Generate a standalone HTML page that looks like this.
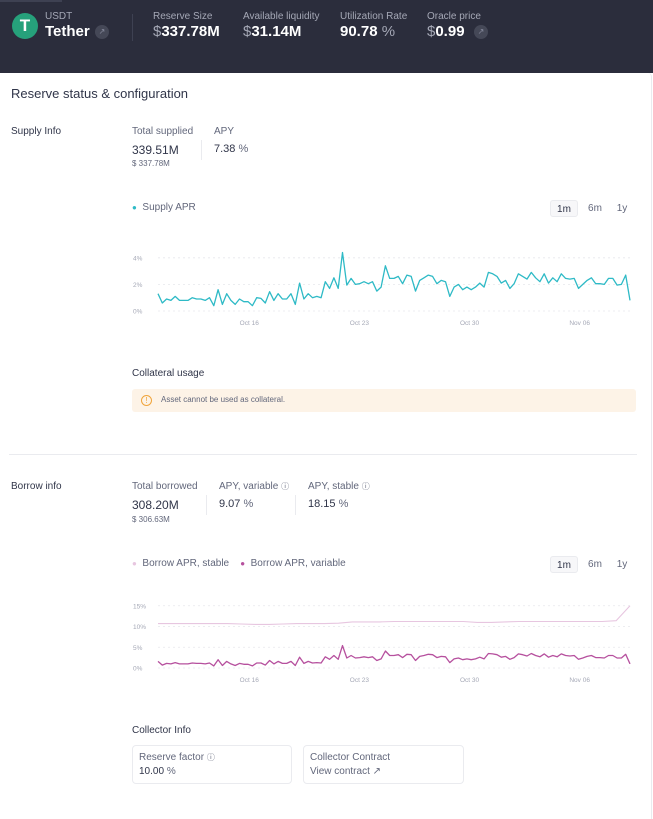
<!DOCTYPE html>
<html><head><meta charset="utf-8">
<style>
*{margin:0;padding:0;box-sizing:border-box}
body{width:653px;height:819px;overflow:hidden;background:#fff;font-family:"Liberation Sans",sans-serif;position:relative;color:#303549}
.a{position:absolute;white-space:nowrap}
.hdr{position:absolute;left:0;top:0;width:653px;height:73px;background:#2b2d3c}
.lbl{font-size:10px;color:#a5a8b6}
.val{font-size:15px;font-weight:bold;color:#fff}
.cur{font-weight:normal;color:#a5a8b6}
.g{font-size:10px;color:#62677b}
.t{font-size:11px;color:#303549}
.tab{font-size:10px;color:#62677b;position:absolute;width:28px;height:17px;line-height:17px;text-align:center}
</style></head><body>
<div class="hdr">
 <div class="a" style="left:0;top:0;width:62px;height:2px;background:#3e4152"></div>
 <div class="a" style="left:12px;top:13px;width:26px;height:26px;border-radius:50%;background:#26a17b;color:#fff;font-weight:bold;font-size:17px;text-align:center;line-height:26px">T</div>
 <div class="a lbl" style="left:45px;top:11px">USDT</div>
 <div class="a val" style="left:45px;top:23px">Tether</div>
 <div class="a" style="left:95px;top:25px;width:14px;height:14px;border-radius:50%;background:#454857;color:#8a8da0;font-size:8px;text-align:center;line-height:14px">↗</div>
 <div class="a" style="left:132px;top:14px;width:1px;height:27px;background:#3e4152"></div>
 <div class="a lbl" style="left:153px;top:11px">Reserve Size</div>
 <div class="a val" style="left:153px;top:23px"><span class="cur">$</span>337.78M</div>
 <div class="a lbl" style="left:243px;top:11px">Available liquidity</div>
 <div class="a val" style="left:243px;top:23px"><span class="cur">$</span>31.14M</div>
 <div class="a lbl" style="left:340px;top:11px">Utilization Rate</div>
 <div class="a val" style="left:340px;top:23px">90.78<span class="cur"> %</span></div>
 <div class="a lbl" style="left:427px;top:11px">Oracle price</div>
 <div class="a val" style="left:427px;top:23px"><span class="cur">$</span>0.99</div>
 <div class="a" style="left:474px;top:25px;width:14px;height:14px;border-radius:50%;background:#454857;color:#8a8da0;font-size:8px;text-align:center;line-height:14px">↗</div>
</div>
<div class="a" style="left:0;top:73px;width:652px;height:746px;background:#fff;border-top-right-radius:4px;border-right:1px solid #eaebef"></div>
<div class="a" style="left:11px;top:86px;font-size:13px;color:#303549">Reserve status &amp; configuration</div>

<div class="a t" style="left:11px;top:126px;font-size:10px">Supply Info</div>
<div class="a g" style="left:132px;top:126px">Total supplied</div>
<div class="a" style="left:132px;top:143px;font-size:12px">339.51M</div>
<div class="a g" style="left:132px;top:159px;font-size:8px">$ 337.78M</div>
<div class="a" style="left:201px;top:140px;width:1px;height:20px;background:#eaebef"></div>
<div class="a g" style="left:214px;top:126px">APY</div>
<div class="a" style="left:214px;top:143px;font-size:11px">7.38 <span style="color:#62677b">%</span></div>
<div class="a g" style="left:132px;top:202px"><span style="color:#2ebac6;font-size:8px">●</span>&nbsp; Supply APR</div>
<div class="tab" style="left:550px;top:200px;border:1px solid #eaebef;border-radius:3px;background:#f7f7f9;color:#303549">1m</div>
<div class="tab" style="left:581px;top:200px">6m</div>
<div class="tab" style="left:608px;top:200px">1y</div>
<svg id="sc" class="a" style="left:0;top:0" width="653" height="819"></svg>

<div class="a t" style="left:132px;top:368px;font-size:10px;font-weight:500">Collateral usage</div>
<div class="a" style="left:132px;top:389px;width:504px;height:23px;background:#fdf3e7;border-radius:3px">
 <span class="a" style="left:9px;top:6px;width:11px;height:11px;border:1px solid #f0a43b;border-radius:50%;font-size:8px;line-height:9px;text-align:center;color:#f0a43b">!</span>
 <span class="a" style="left:29px;top:6px;font-size:8px;color:#62677b">Asset cannot be used as collateral.</span>
</div>
<div class="a" style="left:9px;top:454px;width:628px;height:1px;background:#eaebef"></div>

<div class="a t" style="left:11px;top:481px;font-size:10px">Borrow info</div>
<div class="a g" style="left:132px;top:481px">Total borrowed</div>
<div class="a" style="left:132px;top:498px;font-size:12px">308.20M</div>
<div class="a g" style="left:132px;top:515px;font-size:8px">$ 306.63M</div>
<div class="a" style="left:206px;top:495px;width:1px;height:20px;background:#eaebef"></div>
<div class="a g" style="left:219px;top:481px">APY, variable <span style="font-size:8px">ⓘ</span></div>
<div class="a" style="left:219px;top:498px;font-size:11px">9.07 <span style="color:#62677b">%</span></div>
<div class="a" style="left:295px;top:495px;width:1px;height:20px;background:#eaebef"></div>
<div class="a g" style="left:308px;top:481px">APY, stable <span style="font-size:8px">ⓘ</span></div>
<div class="a" style="left:308px;top:498px;font-size:11px">18.15 <span style="color:#62677b">%</span></div>
<div class="a g" style="left:132px;top:558px"><span style="color:#e7c6e0;font-size:8px">●</span>&nbsp; Borrow APR, stable &nbsp;&nbsp;&nbsp;<span style="color:#b6509e;font-size:8px">●</span>&nbsp; Borrow APR, variable</div>
<div class="tab" style="left:550px;top:556px;border:1px solid #eaebef;border-radius:3px;background:#f7f7f9;color:#303549">1m</div>
<div class="tab" style="left:581px;top:556px">6m</div>
<div class="tab" style="left:608px;top:556px">1y</div>

<div class="a t" style="left:132px;top:725px;font-size:10px;font-weight:500">Collector Info</div>
<div class="a" style="left:132px;top:745px;width:160px;height:39px;border:1px solid #eaebef;border-radius:4px">
 <span class="a g" style="left:6px;top:6px">Reserve factor <span style="font-size:8px">ⓘ</span></span>
 <span class="a" style="left:6px;top:20px;font-size:10px">10.00 <span style="color:#62677b">%</span></span>
</div>
<div class="a" style="left:303px;top:745px;width:161px;height:39px;border:1px solid #eaebef;border-radius:4px">
 <span class="a g" style="left:6px;top:6px">Collector Contract</span>
 <span class="a g" style="left:6px;top:20px">View contract ↗</span>
</div>

<script>
const dateTicks=["Oct 16","Oct 23","Oct 30","Nov 06"];
const tickDays=[6,13,20,27];
const supplyTicks=[0,2,4];
const borrowTicks=[0,5,10,15];
const supplyAPR=[1.3,0.6,0.9,0.8,1.1,0.8,0.8,0.8,1.0,0.9,0.9,0.8,1.0,0.4,1.6,0.5,1.3,0.8,0.5,0.9,0.7,0.7,0.4,1.0,0.95,0.6,1.45,0.8,1.3,0.9,0.9,1.3,0.5,2.1,0.9,1.3,1.0,1.1,1.0,2.2,1.7,2.5,1.7,4.4,1.95,2.45,2.0,2.05,2.2,2.05,2.2,1.5,1.8,3.4,2.45,2.45,2.6,2.05,2.7,2.6,1.5,2.3,2.5,2.7,2.6,2.05,2.3,2.2,1.1,1.8,2.0,1.6,1.8,1.6,1.8,2.1,1.8,2.9,2.8,2.6,2.1,2.3,1.7,2.05,2.8,2.6,2.4,2.9,2.5,2.2,2.8,2.1,2.5,2.2,2.8,2.45,2.4,2.45,1.7,2.0,2.3,2.5,2.05,2.05,2.0,2.45,2.45,1.95,2.0,2.7,0.8];
const borrowVariable=[1.6,0.7,1.1,1.0,1.3,1.0,1.0,1.0,1.2,1.1,1.1,1.0,1.2,0.5,2.0,0.6,1.6,1.0,0.6,1.1,0.9,0.9,0.5,1.2,1.2,0.7,1.8,1.0,1.6,1.1,1.1,1.6,0.6,2.6,1.1,1.6,1.2,1.3,1.2,2.7,2.1,3.0,2.1,5.4,2.4,3.0,2.4,2.5,2.7,2.5,2.7,1.8,2.2,4.1,3.0,3.0,3.2,2.5,3.3,3.2,1.8,2.8,3.0,3.3,3.2,2.5,2.8,2.7,1.3,2.2,2.4,2.0,2.2,2.0,2.2,2.6,2.2,3.5,3.4,3.2,2.6,2.8,2.1,2.5,3.4,3.2,2.9,3.5,3.0,2.7,3.4,2.6,3.0,2.7,3.4,3.0,2.9,3.0,2.1,2.4,2.8,3.0,2.5,2.5,2.4,3.0,3.0,2.4,2.4,3.3,1.0];
const borrowStable=[10.7,10.7,10.7,10.7,10.7,10.7,10.6,10.5,10.5,10.6,10.7,10.7,10.7,10.8,11.1,11.1,11.1,11.2,11.2,11.2,11.2,11.2,11.2,11.0,11.0,11.1,11.2,11.2,11.2,11.2,11.2,11.2,11.2,11.4,15.0];
const NS='http://www.w3.org/2000/svg';
const svg=document.getElementById('sc');
const X0=158,X1=630,D0=0.2,D1=30.2; // day offsets from Oct 10
const xDay=d=>X0+(d-D0)/(D1-D0)*(X1-X0);
const xIdx=(i,n)=>X0+i/(n-1)*(X1-X0);
function mk(t,a){const e=document.createElementNS(NS,t);for(const k in a)e.setAttribute(k,a[k]);svg.appendChild(e);return e;}
function chart(name,y0px,pxPer,ticks,series){
  const y=v=>y0px-v*pxPer;
  ticks.forEach(t=>{
    const l=mk('line',{x1:X0,x2:X1,y1:y(t),y2:y(t),stroke:'#e6e7ec','stroke-dasharray':'2 3','stroke-width':0.8});
    
    
    const tx=mk('text',{x:133,y:y(t)+2.5,'font-size':6.5,fill:'#a5a8b6','font-family':'Liberation Sans'});
    tx.textContent=t+'%';
    
    
  });
  dateTicks.forEach((d,i)=>{
    const tx=mk('text',{x:xDay(tickDays[i]),y:y0px+14,'font-size':6.5,fill:'#a5a8b6','text-anchor':'middle','font-family':'Liberation Sans'});
    tx.textContent=d;
    
    
  });
  series.forEach(s=>{
    const p=s.data.map((v,i)=>(i?'L':'M')+xIdx(i,s.data.length).toFixed(1)+' '+y(v).toFixed(1)).join(' ');
    const pa=mk('path',{d:p,fill:'none',stroke:s.color,'stroke-width':s.w,'stroke-linejoin':'round'});
    
    
  });
}
chart('supply',311,13.3,supplyTicks,[{data:supplyAPR,color:'#2ebac6',w:1.3,name:'supply-apr-line'}]);
chart('borrow',668,4.15,borrowTicks,[{data:borrowStable,color:'#e7c6e0',w:1.1,name:'borrow-stable-line'},{data:borrowVariable,color:'#b6509e',w:1.3,name:'borrow-variable-line'}]);
</script>
</body></html>
